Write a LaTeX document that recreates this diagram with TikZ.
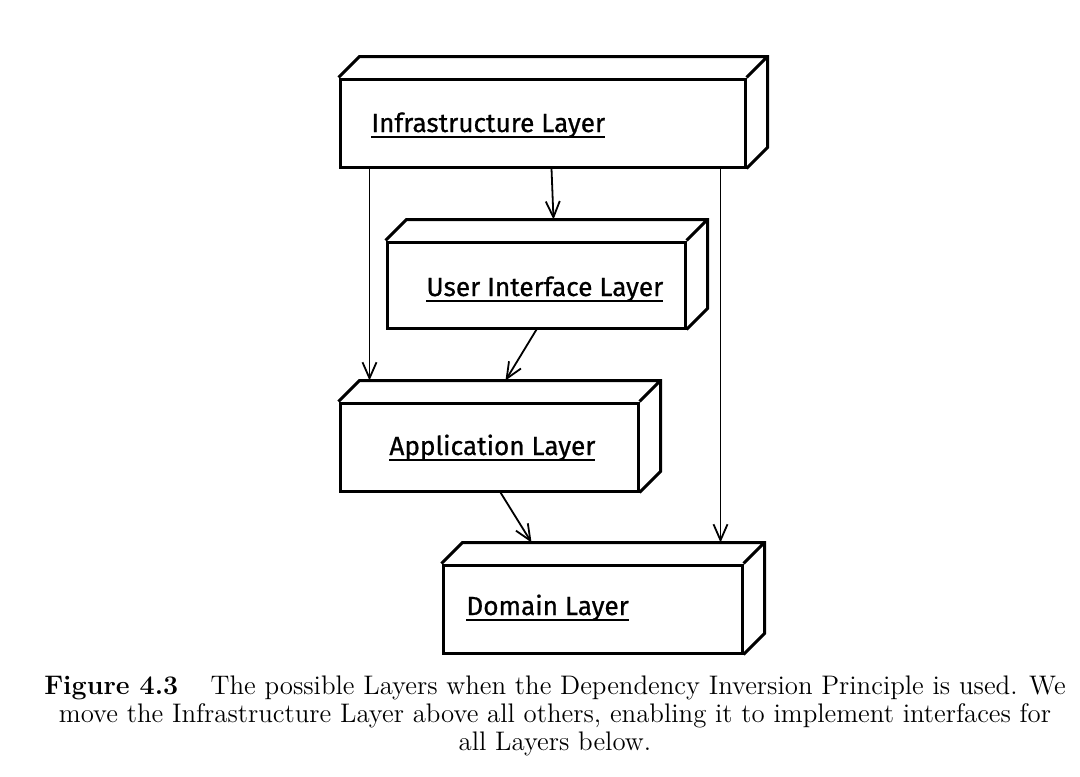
\documentclass[tikz,border=0pt]{standalone}
\usepackage{fontspec}
\usepackage{tikz}
\usetikzlibrary{positioning,arrows.meta,calc}
\newfontfamily\layerfont{Fira Sans}[FakeBold=0.7]
\newcommand{\thickul}[1]{\setbox0\hbox{#1}\rlap{\vrule height -2.2pt depth 3pt width \wd0}\box0}
\tikzset{layer-box/.style={rectangle, minimum width=149pt, minimum height=44pt, inner sep=0pt, draw=black, line width=1.5pt, fill=white},
layer-edge/.style={line width=1.5pt, line join=miter},
layer-label/.style={anchor=base west, inner sep=0pt, font=\layerfont\fontsize{13.1}{15}\selectfont},
arrow/.style={line width=0.9pt,-{Straight Barb[length=8pt,width=7pt]}}}
\newcommand{\layerdepth}[1]{%
\draw [layer-edge] (#1.north west) -- ++(21,-21) -| ([shift={(21,-21)}]#1.south east) -- (#1.south east)
(#1.north east) -- ++(21,-21);}

\begin{document}
\begin{tikzpicture}[x=0.5pt, y=-0.5pt]
\useasboundingbox [fill=white] (0,0) rectangle (1080,776);
\node (n-infra) [layer-box, minimum width=202.5pt] at (542.5,123) {};
\node (n-ui) [layer-box, minimum height=43pt] at (536,285) {};
\node (n-app) [layer-box] at (489,447) {};
\node (n-dom) [layer-box, minimum width=149.5pt] at (592.5,609) {};
\layerdepth{n-infra}
\layerdepth{n-ui}
\layerdepth{n-app}
\layerdepth{n-dom}
\node (l-infra) [layer-label] at (371,132) {\thickul{Infrastructure Layer}};
\node (l-ui) [layer-label] at (426,296) {\thickul{User Interface Layer}};
\node (l-app) [layer-label] at (389,455) {\thickul{Application Layer}};
\node (l-dom) [layer-label] at (466,615) {\thickul{Domain Layer}};
\draw [arrow] ([shift={(213,0)}]n-infra.south west) -- ([shift={(168,-21)}]n-ui.north west);
\draw [arrow] ([shift={(151,0)}]n-ui.south west) -- ([shift={(167,-21)}]n-app.north west);
\draw [arrow] ([shift={(31,0)}]n-infra.south west) -- ([shift={(31,-21)}]n-app.north west);
\draw [arrow] ([shift={(162,0)}]n-app.south west) -- ([shift={(90,-21)}]n-dom.north west);
\draw [arrow] ([shift={(382,0)}]n-infra.south west) -- ([shift={(279,-21)}]n-dom.north west);
\node (caption) [anchor=north, inner sep=0pt, align=center, font=\fontsize{13.42}{14}\selectfont] at (555,675) {\textbf{Figure 4.3}\hspace{1.2em}The possible Layers when the Dependency Inversion Principle is used. We\\
move the Infrastructure Layer above all others, enabling it to implement interfaces for\\
all Layers below.};
\end{tikzpicture}
\end{document}
